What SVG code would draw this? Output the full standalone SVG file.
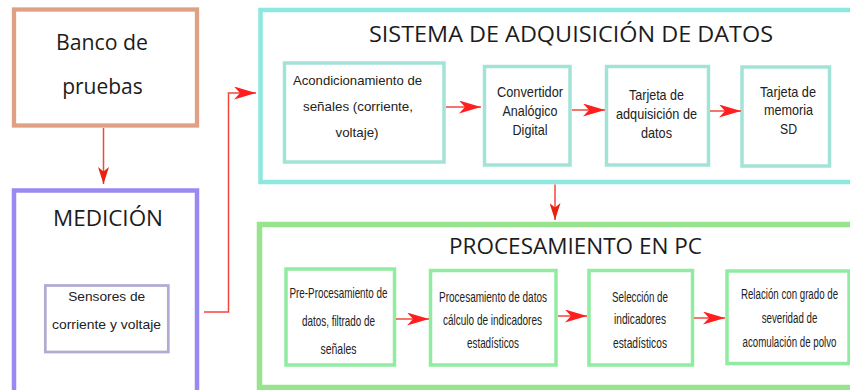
<svg xmlns="http://www.w3.org/2000/svg" width="850" height="390" viewBox="0 0 850 390">
<defs>
<style>
.t{font-family:"Open Sans","DejaVu Sans",sans-serif;fill:#1c1c1c}
.s{font-family:"Liberation Sans",Arial,sans-serif;fill:#222}
.c{font-family:"Liberation Sans",Arial,sans-serif;fill:#222;font-size:14.5px}
.ln{fill:none;stroke:#f2463a;stroke-width:1.5}
.in1{fill:#fff;stroke:#a3e2d6;stroke-width:3.5}
.in2{fill:#fff;stroke:#90eca0;stroke-width:3.5}
</style>
<marker id="arr" viewBox="0 0 22 13" markerWidth="22" markerHeight="13" refX="22" refY="6.5" orient="auto" markerUnits="userSpaceOnUse">
<path d="M0,0 L22,6.5 L0,13 L6,6.5 Z" fill="#ff1f1f"/>
</marker>
<marker id="arrS" viewBox="0 0 17 11" markerWidth="17" markerHeight="11" refX="17" refY="5.5" orient="auto" markerUnits="userSpaceOnUse">
<path d="M0,0 L17,5.5 L0,11 L4.5,5.5 Z" fill="#e8220f"/>
</marker>
</defs>
<rect width="850" height="390" fill="#fff"/>

<g id="banco">
<rect x="14" y="9.5" width="183" height="116" fill="#fff" stroke="#e0a083" stroke-width="4.3"/>
<text class="t" x="102" y="50" font-size="21" text-anchor="middle" textLength="92" lengthAdjust="spacingAndGlyphs">Banco de</text>
<text class="t" x="102.5" y="94" font-size="21" text-anchor="middle">pruebas</text>
</g>

<g id="medicion">
<rect x="14" y="190.5" width="183" height="210" fill="#fff" stroke="#9a89f2" stroke-width="4.5"/>
<text class="t" x="108" y="226" font-size="21" text-anchor="middle" textLength="110" lengthAdjust="spacingAndGlyphs">MEDICIÓN</text>
<g id="sensores">
<rect x="45.3" y="285.5" width="123" height="66.5" fill="#fff" stroke="#b1aad2" stroke-width="2.7"/>
<text class="s" x="106.7" y="301" font-size="13.5" text-anchor="middle" textLength="77" lengthAdjust="spacingAndGlyphs">Sensores de</text>
<text class="s" x="106.5" y="329" font-size="13.5" text-anchor="middle" textLength="109" lengthAdjust="spacingAndGlyphs">corriente y voltaje</text>
</g>
</g>

<g id="sistema">
<rect x="260.5" y="10" width="600" height="172" fill="#fff" stroke="#8de8df" stroke-width="4.5"/>
<text class="t" x="571" y="42" font-size="22" text-anchor="middle" textLength="404" lengthAdjust="spacingAndGlyphs">SISTEMA DE ADQUISICIÓN DE DATOS</text>
</g>

<g id="acondicionamiento">
<rect class="in1" x="284.5" y="63" width="159.5" height="99"/>
<text class="s" x="357.5" y="85" font-size="13" text-anchor="middle" textLength="129" lengthAdjust="spacingAndGlyphs">Acondicionamiento de</text>
<text class="s" x="358" y="111" font-size="13" text-anchor="middle" textLength="110" lengthAdjust="spacingAndGlyphs">señales (corriente,</text>
<text class="s" x="357" y="137" font-size="13" text-anchor="middle" textLength="43" lengthAdjust="spacingAndGlyphs">voltaje)</text>
</g>

<g id="convertidor">
<rect class="in1" x="484.5" y="66.5" width="85.5" height="98.5"/>
<text class="c" x="530" y="97" text-anchor="middle" textLength="66" lengthAdjust="spacingAndGlyphs">Convertidor</text>
<text class="c" x="530" y="116" text-anchor="middle" textLength="55" lengthAdjust="spacingAndGlyphs">Analógico</text>
<text class="c" x="530" y="135" text-anchor="middle" textLength="35" lengthAdjust="spacingAndGlyphs">Digital</text>
</g>

<g id="tarjeta-adq">
<rect class="in1" x="606.5" y="66.5" width="102" height="98.5"/>
<text class="c" x="656.5" y="100" text-anchor="middle" textLength="55" lengthAdjust="spacingAndGlyphs">Tarjeta de</text>
<text class="c" x="656.5" y="119" text-anchor="middle" textLength="81" lengthAdjust="spacingAndGlyphs">adquisición de</text>
<text class="c" x="656.5" y="138" text-anchor="middle" textLength="31" lengthAdjust="spacingAndGlyphs">datos</text>
</g>

<g id="tarjeta-sd">
<rect class="in1" x="742" y="67" width="87.5" height="99"/>
<text class="c" x="788" y="97" text-anchor="middle" textLength="56" lengthAdjust="spacingAndGlyphs">Tarjeta de</text>
<text class="c" x="788.5" y="115" text-anchor="middle" textLength="49" lengthAdjust="spacingAndGlyphs">memoria</text>
<text class="c" x="788.5" y="134" text-anchor="middle" textLength="17" lengthAdjust="spacingAndGlyphs">SD</text>
</g>

<g id="procesamiento">
<rect x="259.5" y="224.5" width="600" height="163" fill="#fff" stroke="#97e38e" stroke-width="5.5"/>
<text class="t" x="575.5" y="254" font-size="21" text-anchor="middle" textLength="253" lengthAdjust="spacingAndGlyphs">PROCESAMIENTO EN PC</text>
</g>

<g id="preprocesamiento">
<rect class="in2" x="286" y="269" width="108.5" height="96"/>
<text class="c" x="338.5" y="298" font-size="17.5" text-anchor="middle" textLength="98" lengthAdjust="spacingAndGlyphs">Pre-Procesamiento de</text>
<text class="c" x="338.5" y="326" font-size="17.5" text-anchor="middle" textLength="73" lengthAdjust="spacingAndGlyphs">datos, filtrado de</text>
<text class="c" x="338.5" y="354" font-size="17.5" text-anchor="middle" textLength="36" lengthAdjust="spacingAndGlyphs">señales</text>
</g>

<g id="procesamiento-datos">
<rect class="in2" x="430.5" y="270.5" width="125.5" height="94.5"/>
<text class="c" x="493" y="302" font-size="15" text-anchor="middle" textLength="108" lengthAdjust="spacingAndGlyphs">Procesamiento de datos</text>
<text class="c" x="492.5" y="325" font-size="15" text-anchor="middle" textLength="99" lengthAdjust="spacingAndGlyphs">cálculo de indicadores</text>
<text class="c" x="493" y="348" font-size="15" text-anchor="middle" textLength="52" lengthAdjust="spacingAndGlyphs">estadísticos</text>
</g>

<g id="seleccion">
<rect class="in2" x="589" y="270.5" width="103.5" height="94.5"/>
<text class="c" x="640" y="302" font-size="15" text-anchor="middle" textLength="56" lengthAdjust="spacingAndGlyphs">Selección de</text>
<text class="c" x="640" y="324" font-size="15" text-anchor="middle" textLength="52" lengthAdjust="spacingAndGlyphs">indicadores</text>
<text class="c" x="640" y="348" font-size="15" text-anchor="middle" textLength="54" lengthAdjust="spacingAndGlyphs">estadísticos</text>
</g>

<g id="relacion">
<rect class="in2" x="727" y="271" width="122" height="92.5"/>
<g transform="translate(789.5,0) scale(0.67,1)">
<text class="c" x="0" y="299" font-size="15" text-anchor="middle">Relación con grado de</text>
<text class="c" x="0" y="323" font-size="15" text-anchor="middle">severidad de</text>
<text class="c" x="0" y="347" font-size="15" text-anchor="middle">acomulación de polvo</text>
</g>
</g>

<g id="connectors">
<path class="ln" d="M103.5,128 V184" marker-end="url(#arrS)"/>
<path class="ln" d="M204,312 H228.5 V93 H256" marker-end="url(#arr)"/>
<path class="ln" d="M555,184.5 V220" marker-end="url(#arrS)"/>
<path class="ln" d="M446,107 H481" marker-end="url(#arr)"/>
<path class="ln" d="M572,110 H605" marker-end="url(#arr)"/>
<path class="ln" d="M710,111 H741" marker-end="url(#arr)"/>
<path class="ln" d="M396,319 H429" marker-end="url(#arr)"/>
<path class="ln" d="M558,316 H587" marker-end="url(#arr)"/>
<path class="ln" d="M694,318 H725" marker-end="url(#arr)"/>
</g>
</svg>
